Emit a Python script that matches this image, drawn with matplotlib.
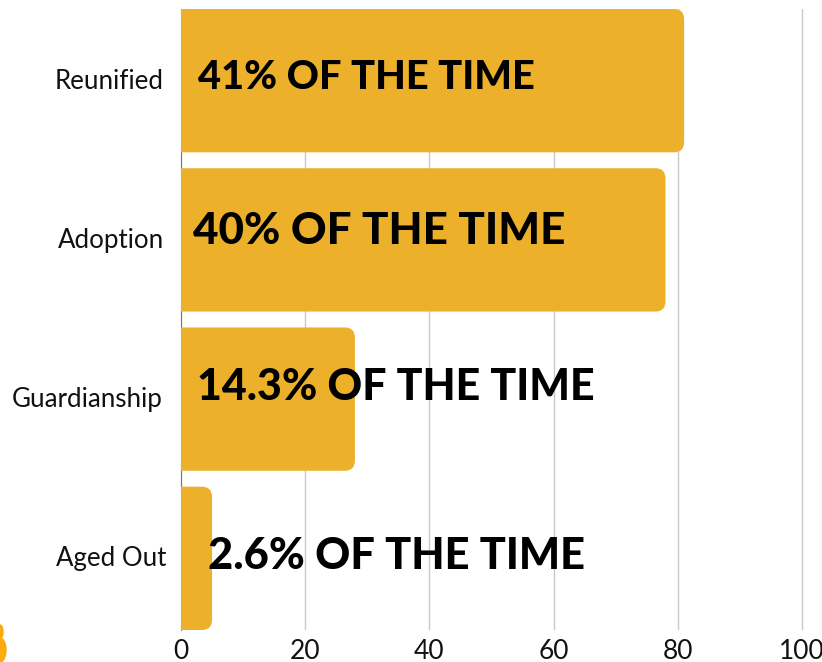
import matplotlib
matplotlib.use('Agg')
import matplotlib.pyplot as plt
from matplotlib.path import Path
from matplotlib.patches import PathPatch, Ellipse
from matplotlib.transforms import ScaledTranslation

plt.rcParams['font.family'] = ['Lato', 'DejaVu Sans']

categories = ['Reunified', 'Adoption', 'Guardianship', 'Aged Out']
values = [81, 78, 28, 5]
notes = ['41% OF THE TIME', '40% OF THE TIME', '14.3% OF THE TIME', '2.6% OF THE TIME']
ticks = [0, 20, 40, 60, 80, 100]

# tweaks per row
note_x = [2.7, 1.9, 2.6, 4.3]
note_dy = [-0.02, -0.055, -0.075, -0.015]
note_size = [28.6, 31.7, 30.9, 31.2]
label_dx = [-1, 0, -2, 2]

BAR = '#ecb02b'
W, H = 822, 662
L, R, T, B = 181, 804, 9, 630
XMAX = 100.3  # a bit past 100 so the last grid line is not clipped


def rounded_bar(ax, y, width, height=0.9, r=10):
    # square on the axis side, rounded on the value side
    rx = r / (R - L) * XMAX
    ry = r / (B - T) * 4
    top, bot = y - height / 2, y + height / 2
    verts = [(0, top), (width - rx, top), (width, top), (width, top + ry),
             (width, bot - ry), (width, bot), (width - rx, bot), (0, bot), (0, top)]
    codes = [Path.MOVETO, Path.LINETO, Path.CURVE3, Path.CURVE3,
             Path.LINETO, Path.CURVE3, Path.CURVE3, Path.LINETO, Path.CLOSEPOLY]
    ax.add_patch(PathPatch(Path(verts, codes), fc=BAR, ec='none', zorder=2))


fig = plt.figure(figsize=(W / 100, H / 100), dpi=100)
ax = fig.add_axes([L / W, 1 - B / H, (R - L) / W, (B - T) / H])

for i, v in enumerate(values):
    rounded_bar(ax, i, v)
    ax.text(note_x[i], i + note_dy[i], notes[i], fontsize=note_size[i], fontweight='black',
            color='black', va='center', ha='left', zorder=4)

ax.set_xlim(0, XMAX)
ax.set_ylim(3.45, -0.45)
ax.set_xticks(ticks)
ax.set_yticks(range(len(categories)))
ax.set_yticklabels(categories)
ax.tick_params(axis='both', length=0, colors='#111111')
ax.tick_params(axis='x', pad=6.5, labelsize=19)
ax.tick_params(axis='y', pad=12, labelsize=18.6)
for lab, dx in zip(ax.get_yticklabels(), label_dx):
    lab.set_transform(lab.get_transform() + ScaledTranslation(dx / 100, 2 / 100, fig.dpi_scale_trans))
ax.grid(axis='x', color='#c8c8c8', lw=1.0, zorder=0)
ax.set_axisbelow(True)
for s in ['top', 'right', 'bottom']:
    ax.spines[s].set_visible(False)
ax.spines['left'].set_color('#777777')
ax.spines['left'].set_zorder(1)

# bit of the logo cut off at the bottom left
fig.add_artist(Ellipse((0, 1 - 650 / H), 12 / W, 24 / H, color='#fdaa0e', transform=fig.transFigure))
fig.add_artist(Ellipse((0, 1 - 632 / H), 6 / W, 14 / H, color='#fdaa0e', transform=fig.transFigure))

fig.savefig('out.png', dpi=100)
